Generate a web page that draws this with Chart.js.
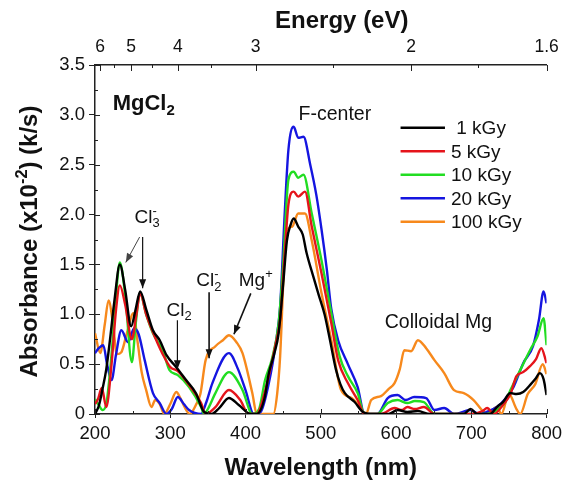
<!DOCTYPE html>
<html>
<head>
<meta charset="utf-8">
<script src="https://cdn.jsdelivr.net/npm/chart.js@4.4.1/dist/chart.umd.min.js"></script>
<style>
html,body{margin:0;padding:0;background:#fff;}
#wrap{width:567px;height:481px;}
</style>
</head>
<body>
<div id="wrap"><canvas id="c" width="567" height="481"></canvas></div>
<script>
// ---------- data ----------
const seriesLabels = [' 1 kGy', '5 kGy', '10 kGy', '20 kGy', '100 kGy'];
const seriesColors = ['#000000', '#e5141b', '#22dd22', '#1515e0', '#f7891c'];

const wl1 = [200,205,210,215,220,226,233,240,248,254,260,268,277,286,295,308,321,334,345,355,365,378,391,407,415,425,431,438,444,450,455,460,464,470,476,481,490,497,505,512,520,526,532,545,556,570,590,602,615,629,645,660,690,699,708,725,734,742,752,760,769,778,785,791,796,800];
const abs1 = [0,0.08,0.25,0.45,0.75,1.15,1.5,1.25,0.88,1.05,1.23,1.05,0.84,0.74,0.59,0.47,0.34,0.21,0.02,0,0.06,0.16,0.09,0,0,0.15,0.41,0.6,0.81,1.3,1.74,1.9,1.96,1.88,1.8,1.62,1.38,1.2,1.0,0.75,0.45,0.3,0.21,0.12,0.02,0,0,0.04,0.02,0.03,0,0,0,0.05,0,0,0.07,0.12,0.21,0.2,0.22,0.29,0.35,0.41,0.35,0.19];

const wl5 = [200,204,209,215,222,228,233,240,249,255,260,268,277,290,300,310,325,341,347,360,378,393,404,415,425,432,440,446,452,457,464,470,479,488,501,514,523,536,549,558,580,598,608,615,625,637,651,700,715,721,730,743,752,760,769,778,786,793,800];
const abs5 = [0.1,0.15,0.26,0.07,0.5,1.05,1.29,1.1,0.75,1.0,1.21,1.0,0.82,0.6,0.47,0.43,0.29,0.11,0,0.07,0.24,0.14,0,0,0.2,0.42,0.7,0.95,1.6,2.1,2.23,2.18,2.23,1.88,1.41,0.91,0.54,0.31,0.14,0,0,0.06,0.04,0.07,0.05,0.07,0,0,0.03,0.06,0,0.1,0.2,0.38,0.42,0.48,0.55,0.66,0.51];

const wl10 = [200,205,210,215,222,228,233,240,249,254,260,268,277,290,299,310,325,341,345,350,360,378,396,409,418,426,435,444,450,457,464,470,477,488,501,514,525,536,549,558,575,589,602,615,625,637,651,720,734,745,752,765,778,788,796,800];
const abs10 = [0.15,0.09,0.04,0.1,0.6,1.2,1.52,1.2,0.52,0.9,1.21,1.0,0.81,0.64,0.44,0.39,0.27,0.07,0,0.05,0.21,0.42,0.24,0,0.05,0.34,0.55,0.91,1.5,2.35,2.43,2.37,2.40,2.01,1.54,1.01,0.58,0.38,0.21,0,0,0.11,0.14,0.11,0.13,0.12,0,0,0.04,0.12,0.24,0.44,0.64,0.78,0.96,0.69];

const wl20 = [200,205,211,216,222,228,235,244,252,258,266,277,286,295,302,310,318,325,341,348,356,378,390,400,411,420,431,440,446,452,457,464,470,477,486,494,501,508,514,523,536,549,558,575,589,602,613,624,640,651,664,677,699,710,720,734,745,756,769,782,790,796,800];
const abs20 = [0.61,0.66,0.69,0.5,0.34,0.6,0.84,0.72,0.86,0.8,0.54,0.21,0.11,0,0.05,0.17,0.1,0.04,0,0.12,0.31,0.61,0.45,0.24,0,0.02,0.31,0.7,1.08,2.0,2.65,2.88,2.77,2.78,2.5,2.2,1.85,1.45,1.05,0.74,0.5,0.27,0,0,0.16,0.19,0.14,0.17,0.16,0.04,0.06,0,0.04,0,0.02,0.07,0.15,0.27,0.51,0.68,0.95,1.23,1.11];

const wl100 = [200,207,213,218,224,229,235,242,251,257,262,268,275,280,286,292,300,308,314,319,326,334,340,347,360,370,378,388,396,409,415,437,442,446,450,453,462,470,479,488,501,514,527,541,552,560,567,580,590,598,605,611,620,629,640,651,664,677,690,703,714,721,734,740,750,760,765,775,785,795,800];
const abs100 = [0.81,0.61,0.9,1.14,0.9,0.6,0.62,0.8,1.01,0.7,0.42,0.24,0.07,0.14,0.1,0,0.1,0.22,0.15,0.07,0,0.09,0.2,0.54,0.68,0.74,0.79,0.72,0.61,0.21,0,0,0.2,0.58,1.3,1.81,1.88,2.01,2.01,1.74,1.21,0.74,0.24,0.16,0.07,0,0.14,0.18,0.25,0.31,0.45,0.64,0.63,0.74,0.66,0.54,0.41,0.24,0.21,0.14,0.04,0,0.07,0,0.2,0.05,0,0.2,0.3,0.5,0.4];

// top axis (energy) ticks
const energyValues = [6, 5, 4, 3, 2, 1.55];
const energyLabels = ['6', '5', '4', '3', '2', '1.6'];
const energyMinor = [5.5, 4.5, 3.5, 2.4, 1.75];

const xMin = 200, xMax = 800, xStep = 100;
const yMin = 0, yMax = 3.5, yStep = 0.5;

// ---------- chart ----------
const FONT = "'Liberation Sans', Arial, sans-serif";
const wlSets = [wl1, wl5, wl10, wl20, wl100];
const absSets = [abs1, abs5, abs10, abs20, abs100];

const datasets = wlSets.map((w, k) => ({
  label: seriesLabels[k],
  data: w.map((x, i) => ({x: x, y: absSets[k][i]})),
  borderColor: seriesColors[k],
  backgroundColor: seriesColors[k],
  borderWidth: 2.4,
  pointRadius: 0,
  cubicInterpolationMode: 'monotone',
  fill: false
}));

function drawRich(ctx, x, y, parts, size, weight) {
  let cx = x, lastStart = x;
  ctx.textBaseline = 'alphabetic';
  ctx.textAlign = 'left';
  parts.forEach(p => {
    let fs = size, dy = 0;
    if (p.sub) { fs = size * 0.68; dy = size * 0.22; }
    if (p.sup) { fs = size * 0.68; dy = -size * 0.42; }
    ctx.font = weight + ' ' + fs + 'px ' + FONT;
    const start = p.stack ? lastStart : cx;
    ctx.fillText(p.t, start, y + dy);
    const w = ctx.measureText(p.t).width;
    lastStart = start;
    cx = Math.max(cx, start + w);
  });
  return cx - x;
}
function richWidth(ctx, parts, size, weight) {
  let cx = 0, lastStart = 0;
  parts.forEach(p => {
    const fs = (p.sub || p.sup) ? size * 0.68 : size;
    ctx.font = weight + ' ' + fs + 'px ' + FONT;
    const start = p.stack ? lastStart : cx;
    lastStart = start;
    cx = Math.max(cx, start + ctx.measureText(p.t).width);
  });
  return cx;
}

function arrow(ctx, x1, y1, x2, y2, color, lw) {
  ctx.save();
  ctx.strokeStyle = color; ctx.fillStyle = color; ctx.lineWidth = lw;
  ctx.beginPath(); ctx.moveTo(x1, y1); ctx.lineTo(x2, y2); ctx.stroke();
  const a = Math.atan2(y2 - y1, x2 - x1), L = 9, W = 3.5;
  ctx.beginPath();
  ctx.moveTo(x2, y2);
  ctx.lineTo(x2 - L * Math.cos(a) + W * Math.sin(a), y2 - L * Math.sin(a) - W * Math.cos(a));
  ctx.lineTo(x2 - L * Math.cos(a) - W * Math.sin(a), y2 - L * Math.sin(a) + W * Math.cos(a));
  ctx.closePath(); ctx.fill();
  ctx.restore();
}

const decor = {
  id: 'decor',
  afterDraw(chart) {
    const ctx = chart.ctx, xs = chart.scales.x, ys = chart.scales.y, ts = chart.scales.top;
    const X = v => xs.getPixelForValue(v), Y = v => ys.getPixelForValue(v);
    const area = chart.chartArea;
    ctx.save();
    ctx.strokeStyle = '#222'; ctx.lineWidth = 1;
    // inward ticks: bottom
    for (let v = xMin; v <= xMax; v += 50) {
      const len = (v % 100 === 0) ? 5 : 3;
      const px = Math.round(X(v)) + 0.5;
      ctx.beginPath(); ctx.moveTo(px, area.bottom); ctx.lineTo(px, area.bottom - len); ctx.stroke();
    }
    // inward ticks: left
    for (let v = yMin; v <= yMax + 1e-9; v += 0.25) {
      const len = (Math.abs(v / 0.5 - Math.round(v / 0.5)) < 1e-6) ? 5 : 3;
      const py = Math.round(Y(v)) + 0.5;
      ctx.beginPath(); ctx.moveTo(area.left, py); ctx.lineTo(area.left + len, py); ctx.stroke();
    }
    // inward ticks: top (energy)
    energyValues.forEach(e => {
      const px = Math.round(ts.getPixelForValue(1240 / e)) + 0.5;
      ctx.beginPath(); ctx.moveTo(px, area.top); ctx.lineTo(px, area.top + 6); ctx.stroke();
    });
    energyMinor.forEach(e => {
      const px = Math.round(ts.getPixelForValue(1240 / e)) + 0.5;
      ctx.beginPath(); ctx.moveTo(px, area.top); ctx.lineTo(px, area.top + 3); ctx.stroke();
    });

    ctx.fillStyle = '#111';
    // axis titles
    ctx.font = 'bold 24px ' + FONT;
    ctx.textAlign = 'center'; ctx.textBaseline = 'middle';
    ctx.fillText('Wavelength (nm)', (area.left + area.right) / 2, 468);
    ctx.fillText('Energy (eV)', (area.left + area.right) / 2 + 21, 21);
    // y title with superscript
    ctx.save();
    ctx.translate(29, (area.top + area.bottom) / 2 + 2);
    ctx.rotate(-Math.PI / 2);
    const yParts = [{t: 'Absorbance (x10'}, {t: '-2', sup: true}, {t: ') (k/s)'}];
    const yw = richWidth(ctx, yParts, 24, 'bold');
    drawRich(ctx, -yw / 2, 8, yParts, 24, 'bold');
    ctx.restore();

    // annotations
    ctx.fillStyle = '#111';
    drawRich(ctx, X(223.5), Y(3.05), [{t: 'MgCl'}, {t: '2', sub: true}], 22, 'bold');
    ctx.font = '19.5px ' + FONT; ctx.textAlign = 'left'; ctx.textBaseline = 'alphabetic';
    ctx.fillText('F-center', X(470.5), Y(2.95));
    ctx.fillText('Colloidal Mg', X(585), Y(0.86));
    drawRich(ctx, X(252.5), Y(1.92), [{t: 'Cl'}, {t: '3', sub: true}, {t: '-', sup: true, stack: true}], 19, 'normal');
    drawRich(ctx, X(295), Y(0.98), [{t: 'Cl'}, {t: '2', sub: true}], 19, 'normal');
    drawRich(ctx, X(334.5), Y(1.28), [{t: 'Cl'}, {t: '2', sub: true}, {t: '-', sup: true, stack: true}], 19, 'normal');
    drawRich(ctx, X(391), Y(1.28), [{t: 'Mg'}, {t: '+', sup: true}], 19, 'normal');

    arrow(ctx, X(259.3), Y(1.775), X(240.9), Y(1.52), '#444', 1);
    arrow(ctx, X(263.3), Y(1.775), X(263.3), Y(1.26), '#111', 1.2);
    arrow(ctx, X(309.5), Y(0.94), X(309.5), Y(0.45), '#111', 1.2);
    arrow(ctx, X(351.6), Y(1.22), X(351.6), Y(0.56), '#111', 1.6);
    arrow(ctx, X(407), Y(1.21), X(384.6), Y(0.8), '#111', 1.6);

    // legend
    chart.data.datasets.forEach((ds, i) => {
      const ly = Y(2.87) + i * 23.5;
      ctx.strokeStyle = ds.borderColor; ctx.lineWidth = 2.6;
      ctx.beginPath(); ctx.moveTo(X(606), ly); ctx.lineTo(X(665), ly); ctx.stroke();
      ctx.fillStyle = '#111';
      ctx.font = '19px ' + FONT; ctx.textAlign = 'left'; ctx.textBaseline = 'middle';
      ctx.fillText(ds.label, X(673), ly + 1);
    });
    ctx.restore();
  }
};

new Chart(document.getElementById('c'), {
  type: 'line',
  data: { datasets: datasets },
  options: {
    responsive: false,
    animation: false,
    devicePixelRatio: 1,
    layout: { padding: { left: 0, right: 17, top: 0, bottom: 0 } },
    plugins: { legend: { display: false }, tooltip: { enabled: false } },
    scales: {
      x: {
        type: 'linear', position: 'bottom', min: xMin, max: xMax,
        afterFit: s => { s.height = 67; },
        ticks: { stepSize: xStep, autoSkip: false, maxRotation: 0, color: '#111', font: { family: FONT, size: 18.5 }, padding: 5 },
        grid: { display: true, drawOnChartArea: false, tickLength: 4, color: '#222', tickColor: '#222' },
        border: { display: true, color: '#222', width: 1.5 }
      },
      top: {
        type: 'linear', position: 'top', min: xMin, max: xMax,
        afterFit: s => { s.height = 65; },
        afterBuildTicks: s => { s.ticks = energyValues.map(e => ({ value: 1240 / e })); },
        ticks: { autoSkip: false, maxRotation: 0, color: '#111', font: { family: FONT, size: 17.5 }, padding: 7,
          callback: (v, i) => energyLabels[i] },
        grid: { display: true, drawOnChartArea: false, drawTicks: false, tickLength: 0 },
        border: { display: true, color: '#222', width: 1.5 }
      },
      y: {
        type: 'linear', position: 'left', min: yMin, max: yMax,
        afterFit: s => { s.width = 95; },
        ticks: { stepSize: yStep, color: '#111', font: { family: FONT, size: 18.5 }, padding: 4,
          callback: v => (v === 0 ? '0' : v.toFixed(1)) },
        grid: { display: true, drawOnChartArea: false, tickLength: 6, color: '#222', tickColor: '#222' },
        border: { display: true, color: '#222', width: 1.5 }
      }
    }
  },
  plugins: [decor]
});
</script>
</body>
</html>
